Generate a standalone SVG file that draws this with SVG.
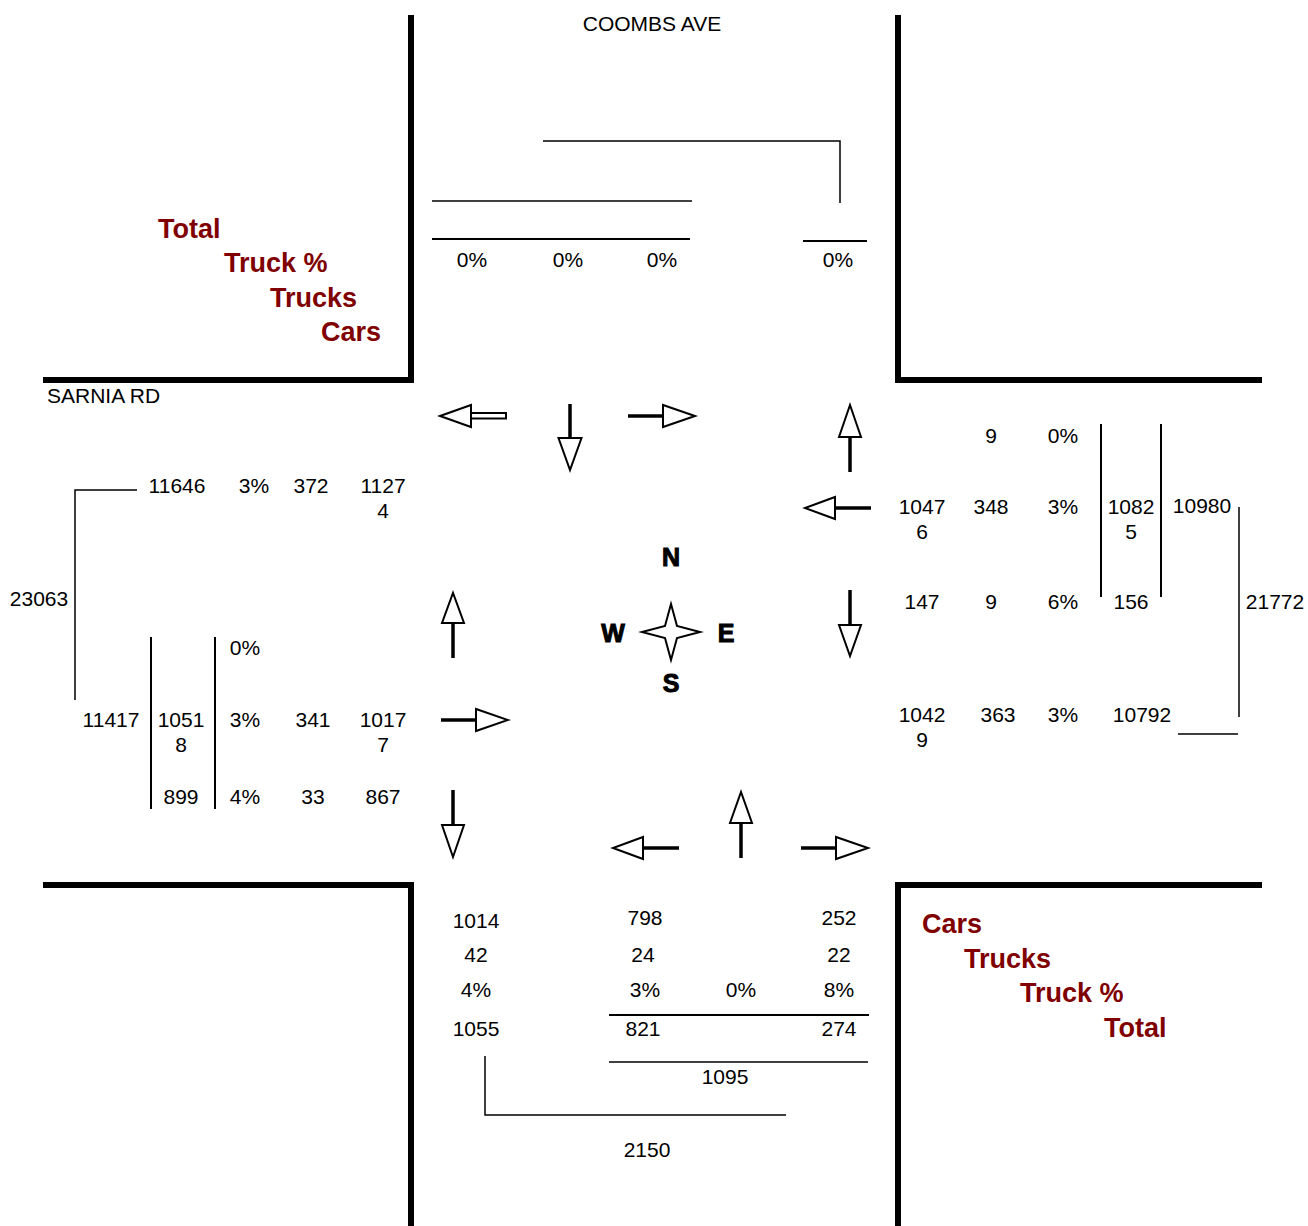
<svg xmlns="http://www.w3.org/2000/svg" width="1308" height="1226" viewBox="0 0 1308 1226">
<style>
.t{font-family:"Liberation Sans",Arial,sans-serif;font-size:21px;fill:#000;text-anchor:middle}
.s{font-family:"Liberation Sans",Arial,sans-serif;font-size:21px;fill:#000}
.r{font-family:"Liberation Sans",Arial,sans-serif;font-size:27px;font-weight:bold;fill:#800000}
.c{font-family:"Liberation Sans",Arial,sans-serif;font-size:25px;font-weight:900;fill:#000;stroke:#000;stroke-width:1;text-anchor:middle}
.road{stroke:#000;stroke-width:6;fill:none}
.ln{stroke:#000;stroke-width:1.5;fill:none}
.ln2{stroke:#000;stroke-width:2;fill:none}
.sh{stroke:#000;stroke-width:3.5;fill:none}
.hd{fill:#fff;stroke:#000;stroke-width:2}
</style>
<rect width="1308" height="1226" fill="#fff"/>
<g id="roads">
<path class="road" d="M411,15 V380 H43"/>
<path class="road" d="M898,15 V380 H1262"/>
<path class="road" d="M43,885 H411 V1226"/>
<path class="road" d="M1262,885 H898 V1226"/>
</g>
<g id="labels">
<text class="t" x="652" y="31">COOMBS AVE</text>
<text class="s" x="47" y="403">SARNIA RD</text>
<text class="r" x="158" y="238">Total</text>
<text class="r" x="224" y="272">Truck %</text>
<text class="r" x="270" y="307">Trucks</text>
<text class="r" x="321" y="341">Cars</text>
<text class="r" x="922" y="933">Cars</text>
<text class="r" x="964" y="968">Trucks</text>
<text class="r" x="1020" y="1002">Truck %</text>
<text class="r" x="1104" y="1037">Total</text>
</g>
<g id="compass">
<path class="hd" d="M671,604 L677,626 L700,632 L677,638 L671,660 L665,638 L642,632 L665,626 Z"/>
<text class="c" x="671" y="566">N</text>
<text class="c" x="613" y="642">W</text>
<text class="c" x="726" y="642">E</text>
<text class="c" x="671" y="692">S</text>
</g>
<g id="north-data">
<text class="t" x="472" y="267">0%</text>
<text class="t" x="568" y="267">0%</text>
<text class="t" x="662" y="267">0%</text>
<text class="t" x="838" y="267">0%</text>
</g>
<g id="west-data">
<text class="t" x="177" y="493">11646</text>
<text class="t" x="254" y="493">3%</text>
<text class="t" x="311" y="493">372</text>
<text class="t" x="383" y="493">1127</text>
<text class="t" x="383" y="518">4</text>
<text class="t" x="39" y="606">23063</text>
<text class="t" x="245" y="655">0%</text>
<text class="t" x="111" y="727">11417</text>
<text class="t" x="181" y="727">1051</text>
<text class="t" x="181" y="752">8</text>
<text class="t" x="245" y="727">3%</text>
<text class="t" x="313" y="727">341</text>
<text class="t" x="383" y="727">1017</text>
<text class="t" x="383" y="752">7</text>
<text class="t" x="181" y="804">899</text>
<text class="t" x="245" y="804">4%</text>
<text class="t" x="313" y="804">33</text>
<text class="t" x="383" y="804">867</text>
</g>
<g id="east-data">
<text class="t" x="991" y="443">9</text>
<text class="t" x="1063" y="443">0%</text>
<text class="t" x="922" y="514">1047</text>
<text class="t" x="922" y="539">6</text>
<text class="t" x="991" y="514">348</text>
<text class="t" x="1063" y="514">3%</text>
<text class="t" x="1131" y="514">1082</text>
<text class="t" x="1131" y="539">5</text>
<text class="t" x="1202" y="513">10980</text>
<text class="t" x="1275" y="609">21772</text>
<text class="t" x="922" y="609">147</text>
<text class="t" x="991" y="609">9</text>
<text class="t" x="1063" y="609">6%</text>
<text class="t" x="1131" y="609">156</text>
<text class="t" x="922" y="722">1042</text>
<text class="t" x="922" y="747">9</text>
<text class="t" x="998" y="722">363</text>
<text class="t" x="1063" y="722">3%</text>
<text class="t" x="1142" y="722">10792</text>
</g>
<g id="south-data">
<text class="t" x="476" y="928">1014</text>
<text class="t" x="645" y="925">798</text>
<text class="t" x="839" y="925">252</text>
<text class="t" x="476" y="962">42</text>
<text class="t" x="643" y="962">24</text>
<text class="t" x="839" y="962">22</text>
<text class="t" x="476" y="997">4%</text>
<text class="t" x="645" y="997">3%</text>
<text class="t" x="741" y="997">0%</text>
<text class="t" x="839" y="997">8%</text>
<text class="t" x="476" y="1036">1055</text>
<text class="t" x="643" y="1036">821</text>
<text class="t" x="839" y="1036">274</text>
<text class="t" x="725" y="1084">1095</text>
<text class="t" x="647" y="1157">2150</text>
</g>
<g id="connectors">
<path class="ln" d="M543,141 H840 V203"/>
<path class="ln" d="M432,201 H692"/>
<path class="ln2" d="M432,239 H690"/>
<path class="ln2" d="M803,241 H867"/>
<path class="ln" d="M137,490 H75 V700"/>
<path class="ln2" d="M151,637 V809"/>
<path class="ln2" d="M215,637 V809"/>
<path class="ln2" d="M1101,424 V597"/>
<path class="ln2" d="M1161,424 V597"/>
<path class="ln" d="M1239,507 V717"/>
<path class="ln" d="M1178,734 H1238"/>
<path class="ln2" d="M609,1015 H869"/>
<path class="ln" d="M609,1062 H868"/>
<path class="ln" d="M485,1056 V1115 H786"/>
</g>
<g id="arrows">
<rect class="hd" x="471" y="413" width="35" height="5.5"/>
<polygon class="hd" points="440,416 471,405 471,427"/>
<path class="sh" d="M570,404 V438"/>
<polygon class="hd" points="558.5,438 581.5,438 570,470"/>
<path class="sh" d="M628,416 H663"/>
<polygon class="hd" points="663,405 663,427 695,416"/>
<path class="sh" d="M850,472 V437"/>
<polygon class="hd" points="839,437 861,437 850,405"/>
<path class="sh" d="M871,508 H835"/>
<polygon class="hd" points="835,497 835,519 805,508"/>
<path class="sh" d="M850,590 V625"/>
<polygon class="hd" points="839,625 861,625 850,656"/>
<path class="sh" d="M453,658 V623"/>
<polygon class="hd" points="442,623 464,623 453,593"/>
<path class="sh" d="M441,720 H476"/>
<polygon class="hd" points="476,709 476,731 508,720"/>
<path class="sh" d="M453,790 V825"/>
<polygon class="hd" points="442,825 464,825 453,857"/>
<path class="sh" d="M679,848 H643"/>
<polygon class="hd" points="643,837 643,859 613,848"/>
<path class="sh" d="M741,858 V823"/>
<polygon class="hd" points="730,823 752,823 741,792"/>
<path class="sh" d="M801,848 H836"/>
<polygon class="hd" points="836,837 836,859 868,848"/>
</g>
</svg>
